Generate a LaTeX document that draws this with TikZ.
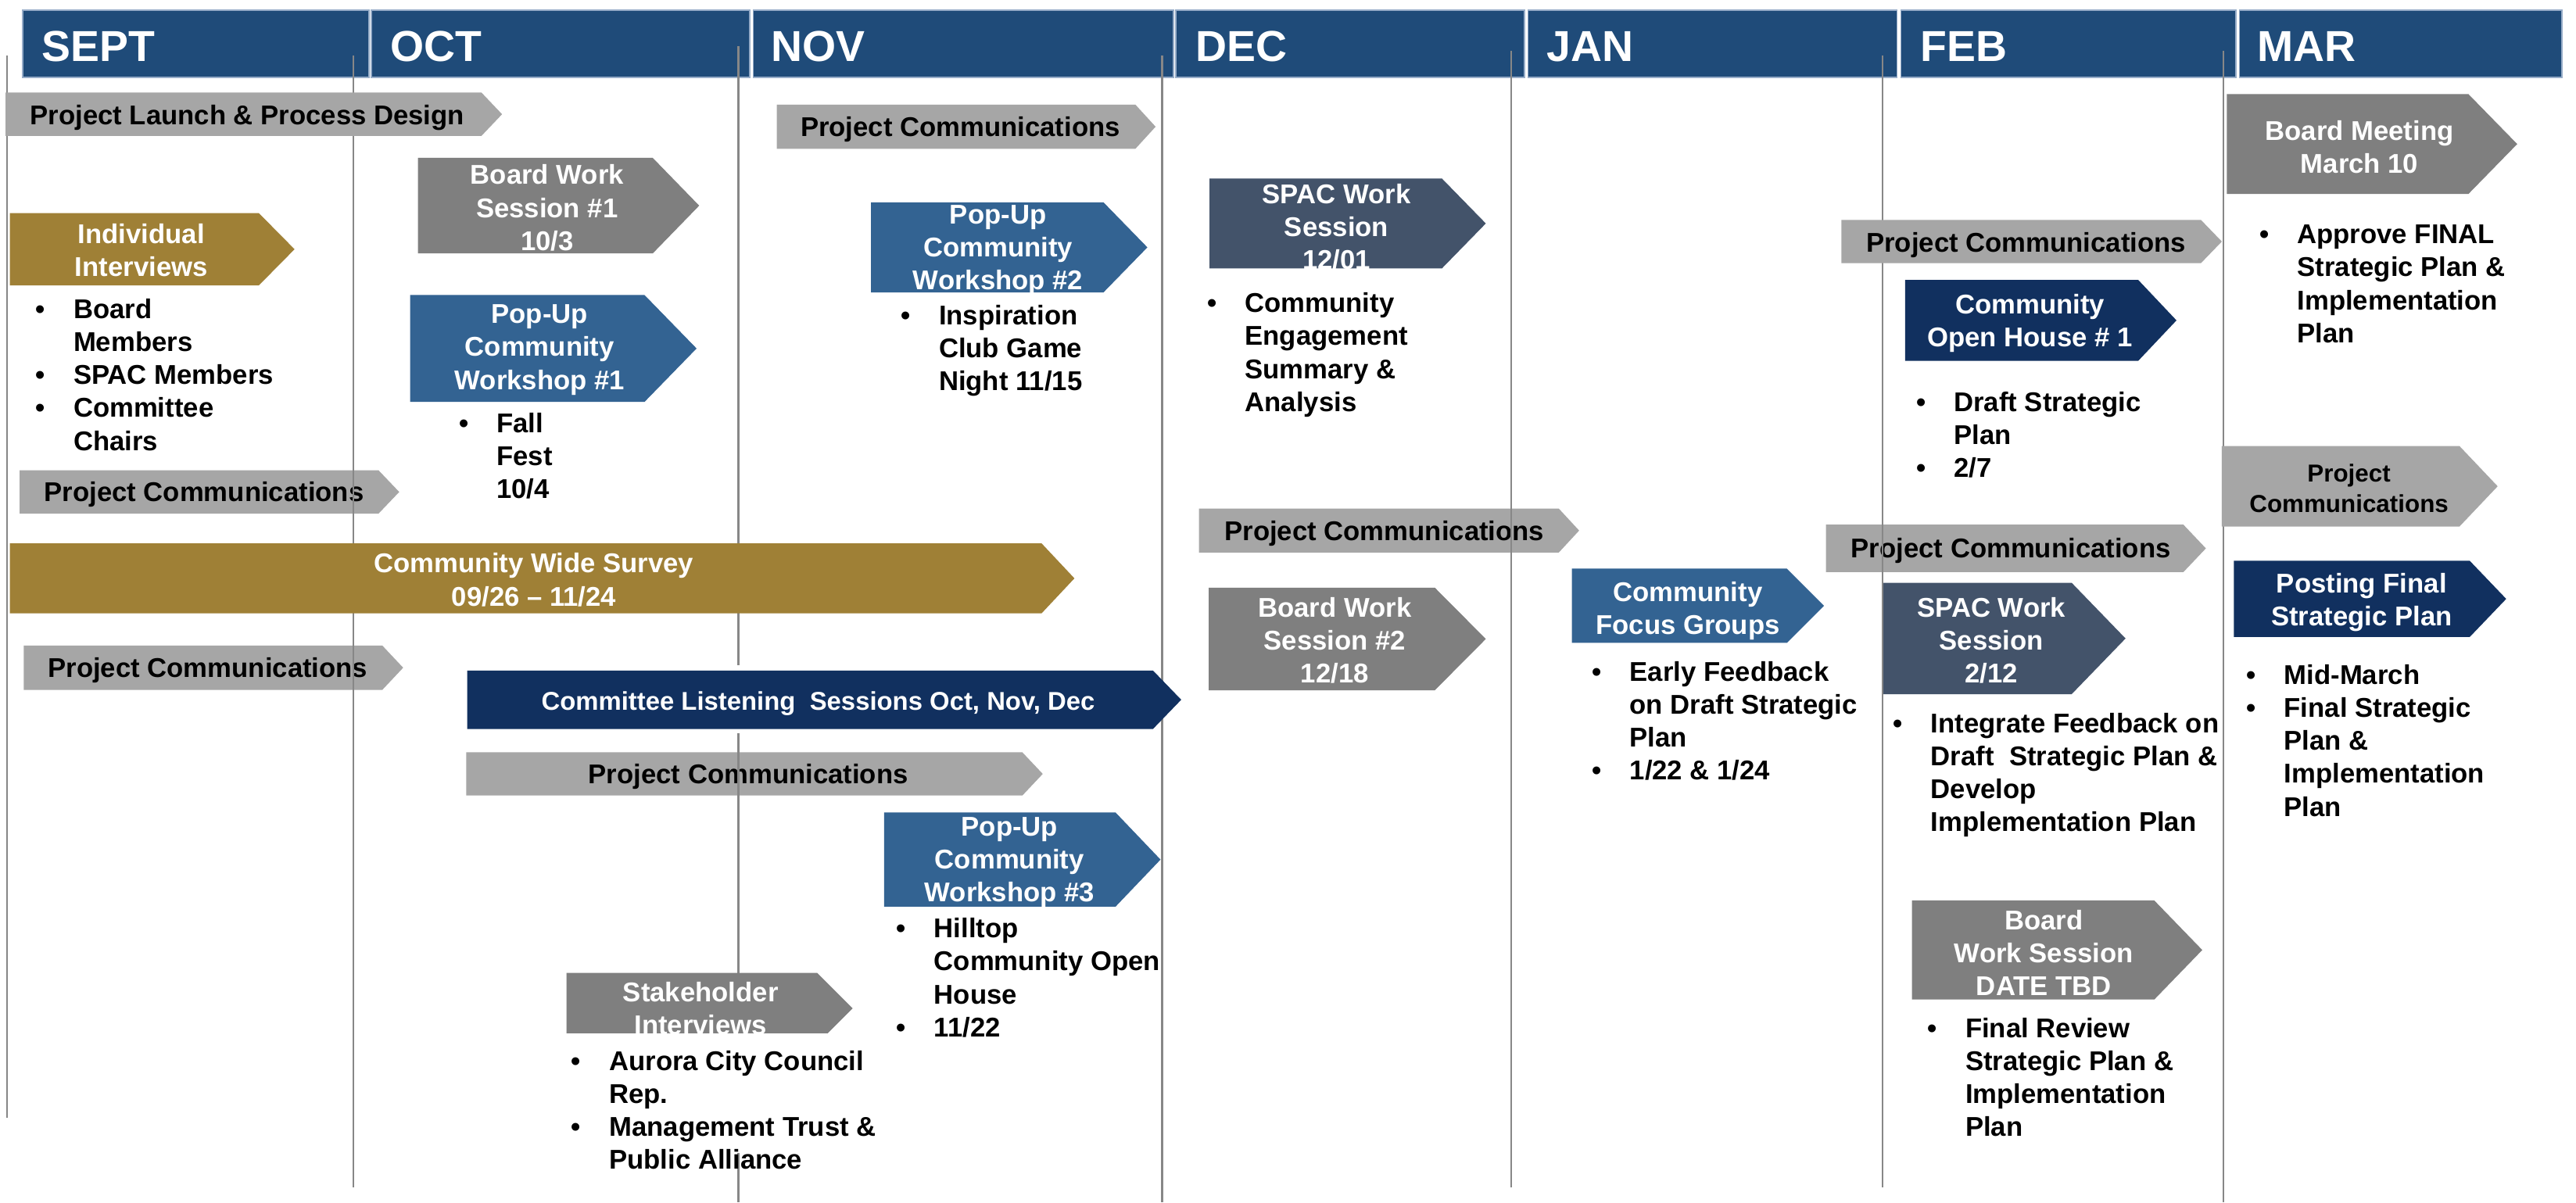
\documentclass[tikz,border=0pt]{standalone}
\usepackage{fontspec}
\setmainfont{Liberation Sans}
\definecolor{hdr}{RGB}{31,75,121}
\definecolor{hdredge}{RGB}{150,172,200}
\definecolor{lgray}{RGB}{166,166,166}
\definecolor{dgray}{RGB}{127,127,127}
\definecolor{gold}{RGB}{159,128,54}
\definecolor{mblue}{RGB}{51,99,146}
\definecolor{slate}{RGB}{67,83,106}
\definecolor{navy}{RGB}{17,48,95}
\definecolor{vline}{RGB}{135,135,135}
\newlength\bulw \setlength\bulw{0.46cm}
\newcommand\bl{\llap{\makebox[\bulw][l]{•}}}
% fill colour, x left, x body end, x tip, y top, y bottom
\newcommand\chevshape[6]{\fill[#1] (#2,#5) -- (#3,#5) -- (#4,{(#5+#6)/2}) -- (#3,#6) -- (#2,#6) -- cycle;}
\tikzset{
  lab/.style={font=\bfseries\fontsize{9.4}{11.4}\selectfont, align=center, inner sep=0pt, text=white},
  labk/.style={lab, text=black},
  blist/.style={font=\bfseries\fontsize{9.4}{11.4}\selectfont, anchor=base west, inner sep=0pt, text=black},
  mon/.style={font=\bfseries\fontsize{15}{18}\selectfont, text=white, anchor=base west, inner sep=0pt},
  hseg/.style={fill=hdr, draw=hdredge, line width=0.4pt},
  vl/.style={draw=vline, line width=0.6pt},
}
\begin{document}
\begin{tikzpicture}[x=0.02cm,y=-0.02cm]
\useasboundingbox (0,0) rectangle (1568,732);
\fill[white] (0,0) rectangle (1568,732);

% ---- header
\path[hseg] (13.8,6.3) rectangle (224.7,47.1);
\path[hseg] (226,6.3) rectangle (456.4,47.1);
\path[hseg] (458.4,6.3) rectangle (714.3,47.1);
\path[hseg] (715.8,6.3) rectangle (928,47.1);
\path[hseg] (930,6.3) rectangle (1154.8,47.1);
\path[hseg] (1157,6.3) rectangle (1361,47.1);
\path[hseg] (1363,6.3) rectangle (1559.3,47.1);
\node[mon] (m1) at (25,37.6) {SEPT};
\node[mon] (m2) at (237.5,37.6) {OCT};
\node[mon] (m3) at (469.2,37.6) {NOV};
\node[mon] (m4) at (727.3,37.6) {DEC};
\node[mon] (m5) at (941.2,37.6) {JAN};
\node[mon] (m6) at (1168.5,37.6) {FEB};
\node[mon] (m7) at (1373.8,37.6) {MAR};

% ---- light grey bars lying under the month lines
\chevshape{lgray}{12}{230.4}{243}{286.3}{312.7}
\node[labk] (pc1) at (124.2,301.2) {Project Communications};
\chevshape{lgray}{14.4}{232.7}{245.4}{393}{420}
\node[labk] (pc2) at (126.5,408.2) {Project Communications};
\chevshape{lgray}{283.8}{622.3}{634.7}{458}{484.3}
\node[labk] (pc3) at (455.5,472.8) {Project Communications};
\chevshape{lgray}{729.8}{948.8}{961.2}{309.6}{336.4}
\node[labk] (pc4) at (842.7,324.8) {Project Communications};
\chevshape{lgray}{1111.5}{1329}{1342.7}{319.4}{348.3}
\node[labk] (pc5) at (1224,335.5) {Project Communications};

% ---- month lines
\draw[vl] (4.3,34) -- (4.3,680.6);
\draw[vl] (215,34) -- (215,723);
\draw[vl] (449.5,28) -- (449.5,732);
\draw[vl] (707.4,34) -- (707.4,732);
\draw[vl] (920,31) -- (920,723);
\draw[vl] (1145.8,34) -- (1145.8,723);
\draw[vl] (1353.2,31) -- (1353.2,732);

% ---- SEPT
\chevshape{lgray}{3.4}{293}{305.6}{56.3}{82.8}
\node[labk] (launch) at (150.5,71.5) {Project Launch \& Process Design};
\chevshape{gold}{6}{157.6}{179.3}{129.8}{173.7}
\node[lab] (indiv) at (86,152.5) {Individual\\Interviews};
\node[blist] (indivb) at (44.4,194) {\begin{tabular}[t]{@{}l@{}}\bl Board\\Members\\\bl SPAC Members\\\bl Committee\\Chairs\end{tabular}};
\chevshape{gold}{6}{634}{654}{330.8}{373.4}
\node[lab] (survey) at (325,353) {Community Wide Survey\\09/26 – 11/24};

% ---- OCT
\chevshape{dgray}{254.4}{397.3}{425.6}{96.1}{154.3}
\node[lab] (bws1) at (333,126.5) {Board Work\\Session \#1\\10/3};
\chevshape{mblue}{249.7}{392.3}{424}{179.6}{244.7}
\node[lab] (pop1) at (328.5,213) {Pop-Up\\Community\\Workshop \#1};
\node[blist] (pop1b) at (302,263.5) {\begin{tabular}[t]{@{}l@{}}\bl Fall\\Fest\\10/4\end{tabular}};
\fill[white] (281.6,405) rectangle (701.8,446.4);
\chevshape{navy}{284.4}{701.8}{719}{408.2}{443.8}
\node[lab, font=\bfseries\fontsize{8.9}{11}\selectfont] (cls) at (498,428.3) {Committee Listening\ \ Sessions Oct, Nov, Dec};
\chevshape{dgray}{344.8}{497.4}{519}{592.3}{635.5}
\node[lab] (stake) at (426.5,614) {Stakeholder\\Interviews};
\fill[white] (336,629) rectangle (530,702);
\node[blist] (stakeb) at (370.5,651.8) {\begin{tabular}[t]{@{}l@{}}\bl Aurora City Council\\Rep.\\\bl Management Trust \&\\Public Alliance\end{tabular}};

% ---- NOV
\chevshape{lgray}{472.8}{691.1}{703.4}{63.7}{90.6}
\node[labk] (pc6) at (584.6,79) {Project Communications};
\chevshape{mblue}{530.2}{671.7}{698.4}{123.2}{178}
\node[lab] (pop2) at (607.5,152.5) {Pop-Up\\Community\\Workshop \#2};
\node[blist] (pop2b) at (571.2,197.5) {\begin{tabular}[t]{@{}l@{}}\bl Inspiration\\Club Game\\Night 11/15\end{tabular}};
\chevshape{mblue}{538.2}{679}{706.4}{494.6}{552}
\node[lab] (pop3) at (614.5,525) {Pop-Up\\Community\\Workshop \#3};
\node[blist] (pop3b) at (568.2,571) {\begin{tabular}[t]{@{}l@{}}\bl Hilltop\\Community Open\\House\\\bl 11/22\end{tabular}};

% ---- DEC
\chevshape{slate}{736.2}{877.7}{904.4}{108.7}{163.4}
\node[lab] (spac1) at (813.5,138) {SPAC Work\\Session\\12/01};
\node[blist] (spac1b) at (757.5,190.3) {\begin{tabular}[t]{@{}l@{}}\bl Community\\Engagement\\Summary \&\\Analysis\end{tabular}};
\chevshape{dgray}{735.8}{873.4}{904.4}{357.8}{420.2}
\node[lab] (bws2) at (812.5,390) {Board Work\\Session \#2\\12/18};

% ---- JAN
\chevshape{mblue}{956.8}{1087.7}{1110.3}{346.2}{391.4}
\node[lab] (focus) at (1027.4,372) {Community\\Focus Groups};
\node[blist] (focusb) at (991.7,414.7) {\begin{tabular}[t]{@{}l@{}}\bl Early Feedback\\on Draft Strategic\\Plan\\\bl 1/22 \& 1/24\end{tabular}};

% ---- FEB
\chevshape{lgray}{1120.9}{1339.7}{1352.4}{133.9}{160.2}
\node[labk] (pc7) at (1233.3,149) {Project Communications};
\chevshape{navy}{1159.6}{1301.5}{1324.8}{170.4}{219.7}
\node[lab] (open) at (1235.6,197) {Community\\Open House \# 1};
\node[blist] (openb) at (1189,250.6) {\begin{tabular}[t]{@{}l@{}}\bl Draft Strategic\\Plan\\\bl 2/7\end{tabular}};
\chevshape{slate}{1146.4}{1261}{1293.8}{354.8}{422.6}
\node[lab] (spac2) at (1212.2,390) {SPAC Work\\Session\\2/12};
\node[blist] (spac2b) at (1175,446) {\begin{tabular}[t]{@{}l@{}}\bl Integrate Feedback on\\Draft\ \ Strategic Plan \&\\Develop\\Implementation Plan\end{tabular}};
\chevshape{dgray}{1163.8}{1311.3}{1340.5}{548.2}{608.5}
\node[lab] (bws3) at (1244.1,580) {Board\\Work Session\\DATE TBD};
\node[blist] (bws3b) at (1196,631.8) {\begin{tabular}[t]{@{}l@{}}\bl Final Review\\Strategic Plan \&\\Implementation\\Plan\end{tabular}};

% ---- MAR
\chevshape{dgray}{1355.5}{1502.5}{1532.2}{57.3}{118.1}
\node[lab] (bm) at (1436.2,89.5) {Board Meeting\\March 10};
\node[blist] (bmb) at (1398,148.4) {\begin{tabular}[t]{@{}l@{}}\bl Approve FINAL\\Strategic Plan \&\\Implementation\\Plan\end{tabular}};
\chevshape{lgray}{1352.4}{1497}{1520.3}{271.5}{320.6}
\node[labk, font=\bfseries\fontsize{8.5}{10.5}\selectfont] (pc8) at (1429.8,297.5) {Project\\Communications};
\chevshape{navy}{1359.7}{1503.3}{1525.5}{341.4}{387.8}
\node[lab] (post) at (1437.5,366.5) {Posting Final\\Strategic Plan};
\node[blist] (postb) at (1390,416.7) {\begin{tabular}[t]{@{}l@{}}\bl Mid-March\\\bl Final Strategic\\Plan \&\\Implementation\\Plan\end{tabular}};
\end{tikzpicture}
\end{document}
